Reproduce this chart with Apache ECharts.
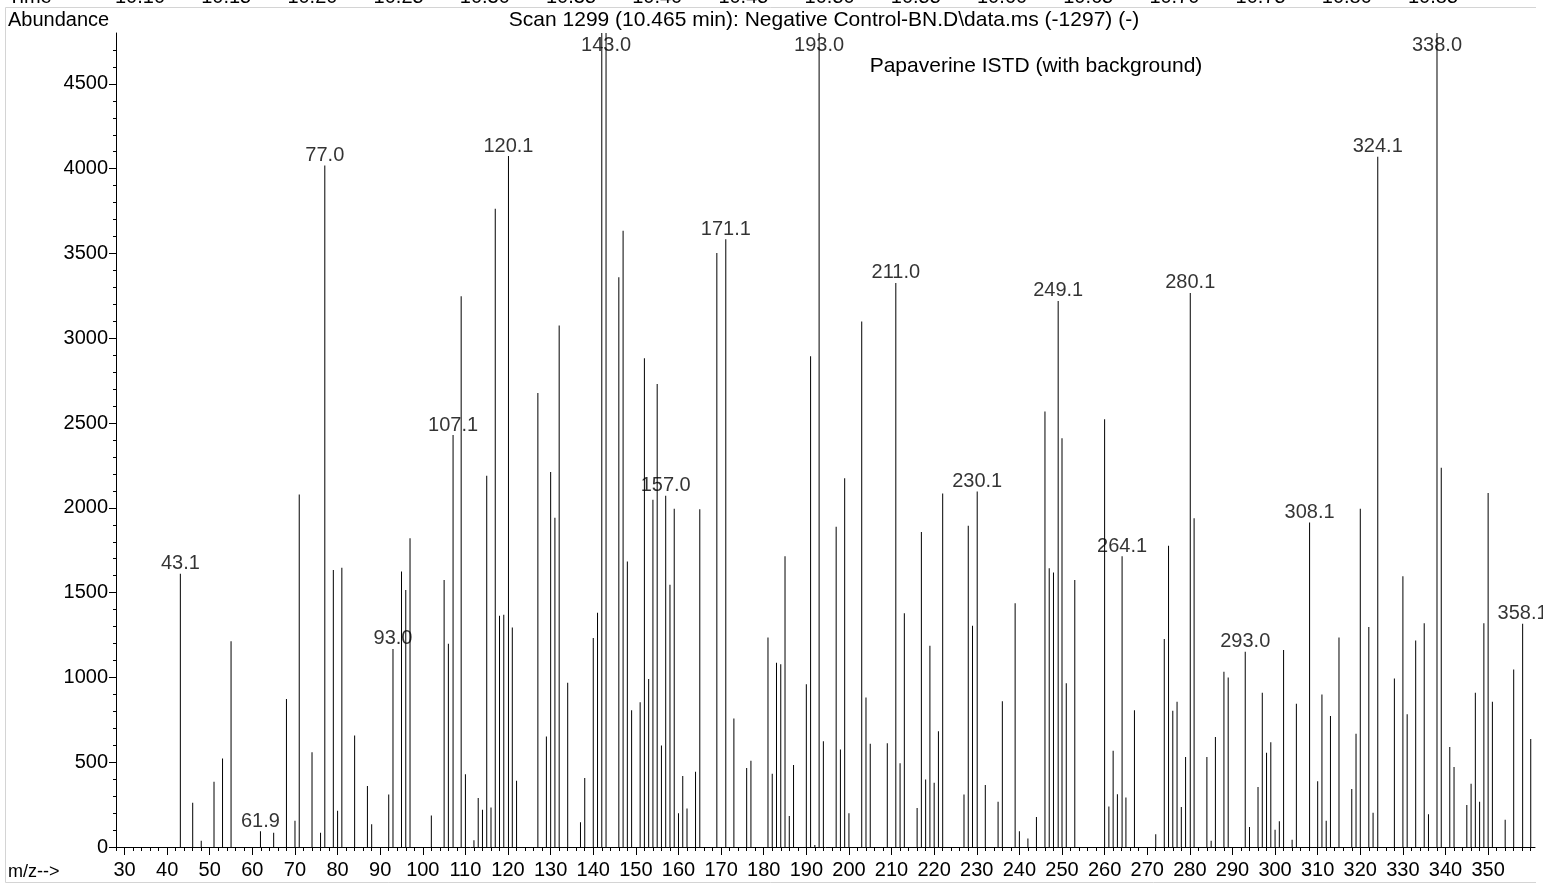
<!DOCTYPE html>
<html><head><meta charset="utf-8">
<script src="https://cdn.jsdelivr.net/npm/echarts@6/dist/echarts.min.js"></script>
<style>html,body{margin:0;padding:0;background:#fff}#c{width:1543px;height:888px}</style>
</head><body><div id="c"></div>
<script>
// ---- data (m/z and abundance) ----
const mz = [43.1,46,48,51,53,55,61.9,65,68,70,71,74,76,77.0,79,80,81,84,87,88,92,93.0,95,96,97,102,105,106,107.1,109,110,112,113,114,115,116,117,118,119,120.1,121,122,127,129,130,131,132,134,137,138,140,141,142,143.0,146,147,148,149,151,152,153,154,155,156,157.0,158,159,160,161,162,164,165,169,171.1,173,176,177,181,182,183,184,185,186,187,190,191,192,193.0,194,197,198,199,200,203,204,205,209,211.0,212,213,216,217,218,219,220,221,222,227,228,229,230.1,232,235,236,239,240,242,244,246,247,248,249.1,250,251,253,260,261,262,263,264.1,265,267,272,274,275,276,277,278,279,280.1,281,284,285,286,288,289,293.0,294,296,297,298,299,300,301,302,304,305,308.1,310,311,312,313,315,318,319,320,322,323,324.1,328,330,331,333,335,336,338.0,339,341,342,345,346,347,348,349,350,351,354,356,358.1,360];
const abundance = [1612,261,37,385,522,1214,93,84,873,155,2078,559,84,4019,1633,214,1646,658,360,134,310,1168,1624,1515,1820,186,1575,1199,2429,3248,429,40,289,220,2189,233,3764,1363,1370,4074,1295,391,2677,652,2211,1941,3075,969,146,407,1233,1382,4900,5300,3360,3634,1683,807,854,2882,991,2047,2730,599,2071,1547,1994,199,419,227,444,1991,3503,3584,758,466,509,1236,432,1087,1078,1714,183,484,960,2894,12,5200,624,1888,575,2174,199,3099,882,609,612,3326,494,1379,230,1857,398,1186,379,683,2084,310,1894,1304,2096,366,267,860,1438,93,50,177,2568,1643,1618,3220,2410,966,1575,2522,239,568,311,1714,292,807,75,1227,1776,804,857,236,531,3267,1938,531,37,649,1034,1000,1152,118,354,910,556,618,102,152,1161,43,845,1913,388,900,155,773,1236,342,668,1994,1298,202,4071,994,1596,783,1217,1320,193,5600,2236,590,472,248,373,910,267,1320,2087,857,161,1047,1317,637];
const labeledMz = [43.1,61.9,77.0,93.0,107.1,120.1,143.0,157.0,171.1,193.0,211.0,230.1,249.1,264.1,280.1,293.0,308.1,324.1,338.0,358.1];
const xMajorTicks = [30,40,50,60,70,80,90,100,110,120,130,140,150,160,170,180,190,200,210,220,230,240,250,260,270,280,290,300,310,320,330,340,350];
const yMajorTicks = [0,500,1000,1500,2000,2500,3000,3500,4000,4500];
const timeLabels = ['10.10','10.15','10.20','10.25','10.30','10.35','10.40','10.45','10.50','10.55','10.60','10.65','10.70','10.75','10.80','10.85'];
const titleText = 'Scan 1299 (10.465 min): Negative Control-BN.D\\data.ms (-1297) (-)';
const subtitleText = 'Papaverine ISTD (with background)';

// ---- layout ----
const X_MIN = 28, X_MAX = 361, Y_MAX = 4800, LABEL_CAP = 4670;
const xMinorTicks = []; for (let v = 28; v <= 360; v += 2) xMinorTicks.push(v);
const yMinorTicks = []; for (let v = 0; v <= 4700; v += 100) yMinorTicks.push(v);
const FONT = '"Liberation Sans", Arial, sans-serif';
const NARROW = '"Liberation Sans Narrow", "Arial Narrow", "Liberation Sans", sans-serif';

const bars = mz.map((m, i) => [m, abundance[i]]);
const labelPts = labeledMz.map(m => [m, Math.min(abundance[mz.indexOf(m)], LABEL_CAP)]);

const chart = echarts.init(document.getElementById('c'), null, {renderer: 'canvas'});
const grid = {left: 116, right: 8, top: 33, bottom: 41};
const timeGraphics = [{type: 'text', x: 8, y: -3, style: {text: 'Time', font: '20px ' + FONT, fill: '#000', textVerticalAlign: 'middle'}}]
  .concat(timeLabels.map((t, i) => ({type: 'text', x: 140 + i * 86.2, y: -3,
    style: {text: t, font: '20px ' + FONT, fill: '#000', textAlign: 'center', textVerticalAlign: 'middle'}})));

chart.setOption({
  animation: false,
  backgroundColor: '#fff',
  grid: grid,
  xAxis: [{
    type: 'value', min: X_MIN, max: X_MAX, position: 'bottom',
    axisLine: {show: true, onZero: false, lineStyle: {color: '#000', width: 1}},
    axisTick: {show: true, customValues: xMajorTicks, length: 8, lineStyle: {color: '#000'}},
    axisLabel: {show: true, customValues: xMajorTicks, fontFamily: NARROW, fontSize: 20, color: '#000', margin: 13,
      formatter: v => String(v)},
    splitLine: {show: false}
  }, {
    type: 'value', min: X_MIN, max: X_MAX, position: 'bottom',
    axisLine: {show: false},
    axisTick: {show: true, customValues: xMinorTicks, length: 4, lineStyle: {color: '#000'}},
    axisLabel: {show: false},
    splitLine: {show: false}
  }],
  yAxis: [{
    type: 'value', min: 0, max: Y_MAX, position: 'left',
    axisLine: {show: true, onZero: false, lineStyle: {color: '#000', width: 1}},
    axisTick: {show: true, customValues: yMajorTicks, length: 7, lineStyle: {color: '#000'}},
    axisLabel: {show: true, customValues: yMajorTicks, fontFamily: FONT, fontSize: 20, color: '#000', margin: 8,
      formatter: v => String(v)},
    splitLine: {show: false}
  }, {
    type: 'value', min: 0, max: Y_MAX, position: 'left',
    axisLine: {show: false},
    axisTick: {show: true, customValues: yMinorTicks, length: 3, lineStyle: {color: '#000'}},
    axisLabel: {show: false},
    splitLine: {show: false}
  }],
  series: [{
    type: 'bar', xAxisIndex: 0, yAxisIndex: 0, data: bars, barWidth: 1,
    itemStyle: {color: '#000'}, clip: true, silent: true
  }, {
    type: 'scatter', xAxisIndex: 0, yAxisIndex: 0, data: labelPts, symbolSize: 0,
    label: {show: true, position: 'top', distance: 0, fontFamily: FONT, fontSize: 20, color: '#000',
      formatter: p => p.value[0].toFixed(1)},
    silent: true
  }],
  graphic: [
    {type: 'line', shape: {x1: 5.5, y1: 7.5, x2: 1536, y2: 7.5}, style: {stroke: '#d4d4d4', lineWidth: 1}},
    {type: 'line', shape: {x1: 5.5, y1: 7.5, x2: 5.5, y2: 882.5}, style: {stroke: '#d4d4d4', lineWidth: 1}},
    {type: 'line', shape: {x1: 5.5, y1: 882.5, x2: 1536, y2: 882.5}, style: {stroke: '#d4d4d4', lineWidth: 1}},
    {type: 'text', x: 8, y: 20, style: {text: 'Abundance', font: '20px ' + FONT, fill: '#000', textVerticalAlign: 'middle'}},
    {type: 'text', x: 824, y: 20, style: {text: titleText, font: '21px ' + FONT, fill: '#000', textAlign: 'center', textVerticalAlign: 'middle'}},
    {type: 'text', x: 1036, y: 66, style: {text: subtitleText, font: '21px ' + FONT, fill: '#000', textAlign: 'center', textVerticalAlign: 'middle'}},
    {type: 'text', x: 8, y: 872, style: {text: 'm/z-->', font: '18px ' + FONT, fill: '#000', textVerticalAlign: 'middle'}}
  ].concat(timeGraphics)
});
</script>
</body></html>
